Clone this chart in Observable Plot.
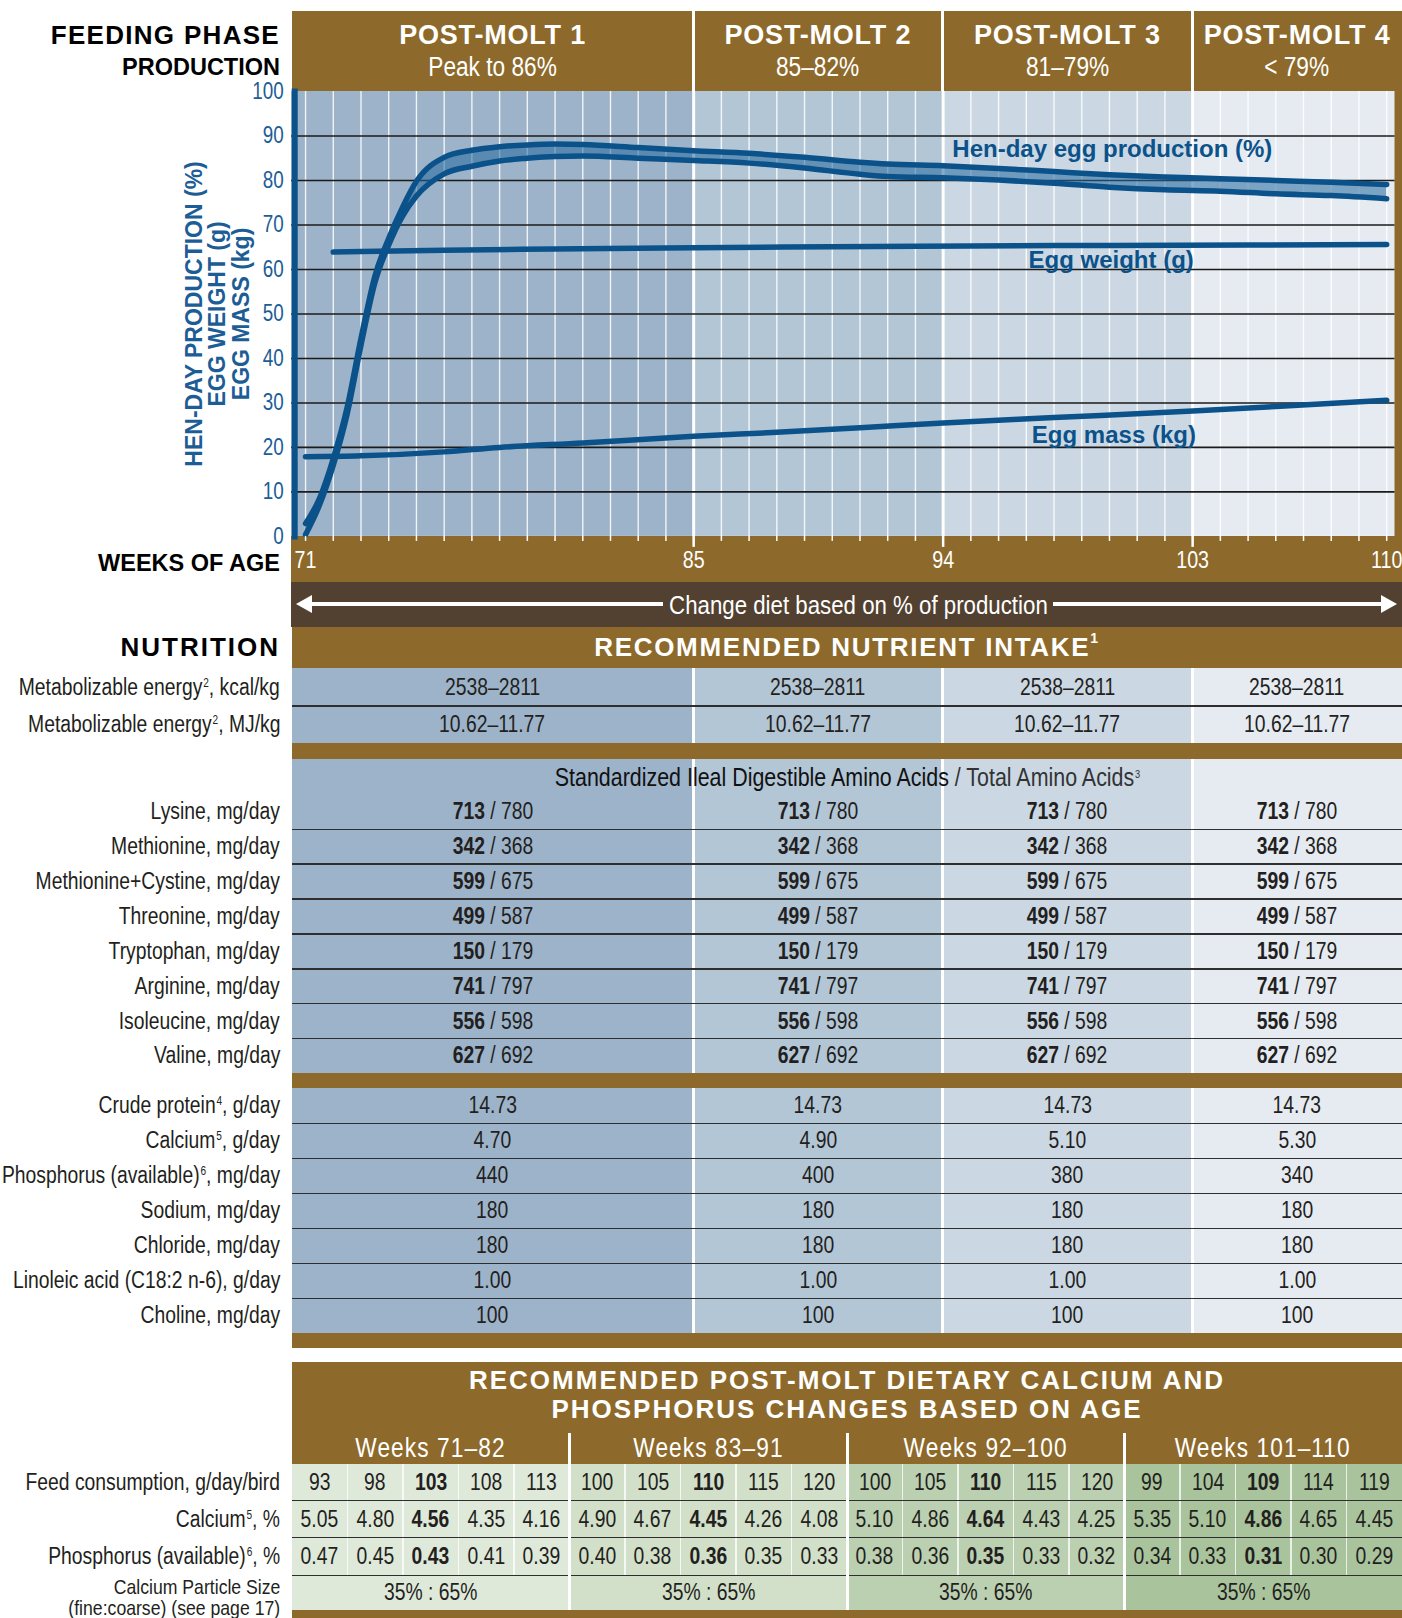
<!DOCTYPE html>
<html><head><meta charset="utf-8">
<script src="https://cdn.jsdelivr.net/npm/d3@7"></script>
<script src="https://cdn.jsdelivr.net/npm/@observablehq/plot@0.6"></script>
<style>
body{margin:0;background:#fff;}
#page{position:relative;width:1402px;height:1618px;overflow:hidden;color:#231f20;
 font-family:'Liberation Sans',Arial,sans-serif;}
.abs{position:absolute;box-sizing:border-box;}
.sup{font-size:12px;position:relative;top:-8px;margin-left:1px;}
.c{display:inline-block;transform:scaleX(0.84);transform-origin:center center;white-space:nowrap;}
.cr{transform-origin:right center;}
#page svg{position:absolute;left:0;top:0;}
</style></head>
<body><div id="page"></div>
<script>
// ---------------- DATA ----------------
const phaseNames = ["POST-MOLT 1", "POST-MOLT 2", "POST-MOLT 3", "POST-MOLT 4"];
const phaseProduction = ["Peak to 86%", "85–82%", "81–79%", "< 79%"];
const phaseStartWeek = [71, 85, 94, 103];
const phaseEndWeek = [85, 94, 103, 110];
const weekTicks = [71,72,73,74,75,76,77,78,79,80,81,82,83,84,85,86,87,88,89,90,91,92,93,94,95,96,97,98,99,100,101,102,103,104,105,106,107,108,109,110];
const xTickLabels = [71, 85, 94, 103, 110];
const yTickLabels = [0, 10, 20, 30, 40, 50, 60, 70, 80, 90, 100];
const yGridLines = [10, 20, 30, 40, 50, 60, 70, 80, 90];

const prodWeeks = [71, 71.5, 72, 72.5, 73, 73.5, 74, 74.5, 75, 76, 77, 78, 79, 80, 81, 83, 85, 87, 89, 91, 92, 94, 96, 98, 100, 102, 104, 106, 108, 110];
const prodUpper = [2.9, 8.5, 17.5, 29, 44.5, 58.5, 67, 74, 79.8, 85.2, 86.8, 87.6, 88.0, 88.2, 88.1, 87.4, 86.7, 86.1, 85.2, 84.1, 83.7, 83.3, 82.7, 82.0, 81.3, 80.8, 80.4, 80.0, 79.6, 79.1];
const prodLower = [0.4, 7.0, 16.0, 27.5, 43.0, 57.0, 65.5, 72.0, 76.5, 81.5, 83.2, 84.4, 85.0, 85.4, 85.5, 85.0, 84.5, 83.9, 82.8, 81.4, 80.9, 80.6, 80.1, 79.4, 78.5, 77.9, 77.6, 77.0, 76.6, 75.9];
const eggWeightWeeks = [72, 76, 80, 85, 90, 95, 100, 105, 110];
const eggWeight = [63.9, 64.3, 64.6, 64.9, 65.1, 65.3, 65.4, 65.5, 65.6];
const eggMassWeeks = [71, 73, 76, 78, 81, 85, 88, 91, 94, 98, 103, 106, 110];
const eggMass = [17.9, 18.1, 19.0, 20.0, 21.0, 22.5, 23.4, 24.4, 25.5, 26.7, 28.2, 29.2, 30.6];
const seriesLabels = ["Hen-day egg production (%)", "Egg weight (g)", "Egg mass (kg)"];

const energyLabels = ["Metabolizable energy<span class='sup'>2</span>, kcal/kg", "Metabolizable energy<span class='sup'>2</span>, MJ/kg"];
const energyValues = [["2538–2811","2538–2811","2538–2811","2538–2811"], ["10.62–11.77","10.62–11.77","10.62–11.77","10.62–11.77"]];
const aminoNames = ["Lysine", "Methionine", "Methionine+Cystine", "Threonine", "Tryptophan", "Arginine", "Isoleucine", "Valine"];
const aminoDigestible = [713, 342, 599, 499, 150, 741, 556, 627];
const aminoTotal = [780, 368, 675, 587, 179, 797, 598, 692];
const otherLabels = ["Crude protein<span class='sup'>4</span>, g/day", "Calcium<span class='sup'>5</span>, g/day", "Phosphorus (available)<span class='sup'>6</span>, mg/day", "Sodium, mg/day", "Chloride, mg/day", "Linoleic acid (C18:2 n-6), g/day", "Choline, mg/day"];
const otherValues = [
  ["14.73","14.73","14.73","14.73"],
  ["4.70","4.90","5.10","5.30"],
  ["440","400","380","340"],
  ["180","180","180","180"],
  ["180","180","180","180"],
  ["1.00","1.00","1.00","1.00"],
  ["100","100","100","100"]];

const ageGroups = ["Weeks 71–82", "Weeks 83–91", "Weeks 92–100", "Weeks 101–110"];
const feedConsumption = [[93,98,103,108,113],[100,105,110,115,120],[100,105,110,115,120],[99,104,109,114,119]];
const calciumPct = [["5.05","4.80","4.56","4.35","4.16"],["4.90","4.67","4.45","4.26","4.08"],["5.10","4.86","4.64","4.43","4.25"],["5.35","5.10","4.86","4.65","4.45"]];
const phosphorusPct = [["0.47","0.45","0.43","0.41","0.39"],["0.40","0.38","0.36","0.35","0.33"],["0.38","0.36","0.35","0.33","0.32"],["0.34","0.33","0.31","0.30","0.29"]];
const particleSize = ["35% : 65%", "35% : 65%", "35% : 65%", "35% : 65%"];
const ageRowLabels = ["Feed consumption, g/day/bird", "Calcium<span class='sup'>5</span>, %", "Phosphorus (available)<span class='sup'>6</span>, %"];

// ---------------- STYLE ----------------
const FONT = "'Liberation Sans',Arial,sans-serif";
const BLUE = "#0b528a", TICKBLUE = "#1d5d96";
const BROWN = "#8d6a2b", DARKBROWN = "#524130";
const PHASE_FILL = ["#9db3c9", "#b3c6d6", "#cbd8e3", "#e6ebf2"];
const GROUP_FILL = ["#dfe9da", "#d2e0ca", "#bbd0b1", "#a9c49c"];
const X_DOMAIN = [70.5, 110.3];
const SQUEEZE = 0.82;

const page = document.getElementById("page");
function box(l, t, w, h, css, html) {
  const d = document.createElement("div"); d.className = "abs";
  Object.assign(d.style, {left: l + "px", top: t + "px", width: w + "px", height: h + "px"}, css || {});
  if (html != null) d.innerHTML = html;
  page.appendChild(d); return d;
}
// condensed text, centred (or right aligned)
function txt(l, t, w, h, html, css, alignRight) {
  return box(l, t, w, h, Object.assign({display: "flex", alignItems: "center", justifyContent: alignRight ? "flex-end" : "center", whiteSpace: "nowrap", fontSize: "23px"}, css || {}),
    `<span class="c${alignRight ? " cr" : ""}">${html}</span>`);
}
// bold heading text (not condensed)
function head(l, t, w, h, html, css, alignRight) {
  return box(l, t, w, h, Object.assign({display: "flex", alignItems: "center", justifyContent: alignRight ? "flex-end" : "center", whiteSpace: "nowrap", fontWeight: "bold"}, css || {}), html);
}

// ---------------- CHART ----------------
const phases = phaseNames.map((n, i) => ({name: n, start: i === 0 ? X_DOMAIN[0] : phaseStartWeek[i], end: i === 3 ? X_DOMAIN[1] : phaseEndWeek[i], i}));
const prod = prodWeeks.map((w, i) => ({week: w, upper: prodUpper[i], lower: prodLower[i]}));
const ew = eggWeightWeeks.map((w, i) => ({week: w, value: eggWeight[i]}));
const em = eggMassWeeks.map((w, i) => ({week: w, value: eggMass[i]}));
const labelAnchors = [{week: 94.33, value: 87.05}, {week: 97.08, value: 62.0}, {week: 97.2, value: 22.7}];
const labelsData = seriesLabels.map((t, i) => ({text: t, ...labelAnchors[i]}));

// HTML backgrounds under the plot
box(292, 11, 1110, 80, {background: BROWN});
box(1394, 88, 8, 450, {background: BROWN});
box(291, 535.9, 1111, 45.8, {background: BROWN});
box(291, 581.7, 1111, 45, {background: DARKBROWN});

const lineOpts = {stroke: BLUE, strokeWidth: 5.5, strokeLinecap: "round", strokeLinejoin: "round"};
const chart = Plot.plot({
  width: 1402, height: 627,
  marginLeft: 291.2, marginRight: 7.5, marginTop: 91, marginBottom: 91.1,
  x: {domain: X_DOMAIN, label: null},
  y: {domain: [0, 100], label: null},
  style: {background: "transparent", overflow: "visible", fontFamily: FONT},
  marks: [
    Plot.rect(phases, {x1: "start", x2: "end", y1: 0, y2: 100, fill: d => PHASE_FILL[d.i]}),
    Plot.gridX(weekTicks, {stroke: "white", strokeOpacity: 0.85, strokeWidth: 1.4}),
    Plot.gridX(phaseStartWeek.slice(1), {stroke: "white", strokeOpacity: 1, strokeWidth: 3}),
    Plot.gridY(yGridLines, {stroke: "#1b1b1b", strokeOpacity: 1, strokeWidth: 1.6}),
    Plot.areaY(prod, {x: "week", y1: "lower", y2: "upper", curve: "monotone-x", fill: "#23679e", fillOpacity: 0.55}),
    Plot.line(prod, {x: "week", y: "upper", curve: "monotone-x", ...lineOpts}),
    Plot.line(prod, {x: "week", y: "lower", curve: "monotone-x", ...lineOpts}),
    Plot.line(ew, {x: "week", y: "value", curve: "monotone-x", ...lineOpts}),
    Plot.line(em, {x: "week", y: "value", curve: "monotone-x", ...lineOpts}),
    Plot.text(labelsData, {x: "week", y: "value", text: "text", textAnchor: "start", lineAnchor: "middle", fill: BLUE, fontSize: 24, fontWeight: "bold"}),
    Plot.frame({anchor: "left", stroke: BLUE, strokeWidth: 6, dx: 3}),
    Plot.axisY(yTickLabels, {anchor: "left", tickSize: 0, tickPadding: 8, fill: TICKBLUE, fontSize: 23, label: null}),
    Plot.axisX(weekTicks, {anchor: "bottom", tickSize: 5, tickFormat: () => "", stroke: "white", strokeWidth: 1.5, label: null}),
    Plot.axisX(phaseStartWeek.slice(1), {anchor: "bottom", tickSize: 11, tickFormat: () => "", stroke: "white", strokeWidth: 2.5, label: null}),
    Plot.axisX(xTickLabels, {anchor: "bottom", tickSize: 0, tickPadding: 15, fill: "white", fontSize: 24, label: null}),
    Plot.text(["HEN-DAY PRODUCTION (%)\nEGG WEIGHT (g)\nEGG MASS (kg)"], {frameAnchor: "left", textAnchor: "middle", lineAnchor: "middle", rotate: -90, dx: -74, lineHeight: 1.02, fill: "#1d5d96", fontWeight: "bold", fontSize: 23})
  ]
});
page.appendChild(chart);
// condense tick labels (narrow typeface is not installed)
chart.querySelectorAll('g[aria-label$="tick label"] text').forEach(t => {
  let tr = t.getAttribute("transform");
  if (!tr) {
    const x = +(t.getAttribute("x") || 0), y = +(t.getAttribute("y") || 0);
    t.removeAttribute("x"); t.removeAttribute("y");
    tr = `translate(${x},${y})`;
  }
  t.setAttribute("transform", tr + ` scale(${SQUEEZE},1)`);
});
const xs = chart.scale("x");

// column bounds (derived from the chart x scale)
const colL = phases.map((p, i) => i === 0 ? 292 : xs.apply(phaseStartWeek[i]));
const colR = phases.map((p, i) => i === 3 ? 1402 : xs.apply(phaseEndWeek[i]));

// header texts
head(0, 16, 280, 38, "FEEDING PHASE", {fontSize: "26px", letterSpacing: "1.3px", color: "#000"}, true);
head(0, 50, 280, 34, "PRODUCTION", {fontSize: "23.5px", color: "#000"}, true);
phases.forEach((p, i) => {
  if (i > 0) box(colL[i] - 1.5, 11, 3, 80, {background: "white"});
  head(colL[i], 16, colR[i] - colL[i], 38, phaseNames[i], {fontSize: "27px", color: "white", letterSpacing: "0.8px"});
  txt(colL[i], 49, colR[i] - colL[i], 36, phaseProduction[i], {fontSize: "27px", color: "white"});
});
head(0, 545, 280, 36, "WEEKS OF AGE", {fontSize: "23.5px", color: "#000"}, true);

// arrow band
function arrow(x1, x2, dir) {
  const a = box(x1, 595, x2 - x1, 18, {});
  a.innerHTML = `<div style="position:absolute;top:6.8px;height:4.5px;background:#fff;${dir < 0 ? "left:10px;right:0" : "left:0;right:10px"}"></div>` +
    `<div style="position:absolute;top:0;width:0;height:0;border-top:9px solid transparent;border-bottom:9px solid transparent;${dir < 0 ? "left:0;border-right:16px solid #fff" : "right:0;border-left:16px solid #fff"}"></div>`;
}
arrow(296, 663, -1);
arrow(1053, 1397, 1);
txt(663, 583, 390, 44, "Change diet based on % of production", {fontSize: "26.5px", color: "white"});

// ---------------- NUTRIENT TABLE ----------------
head(0, 626.7, 280, 41.6, "NUTRITION", {fontSize: "26px", color: "#000", letterSpacing: "2px"}, true);
box(292, 626.7, 1110, 41.6, {background: BROWN});
head(292, 626.7, 1110, 41.6, "RECOMMENDED NUTRIENT INTAKE<span style='font-size:14px;position:relative;top:-9px'>1</span>", {fontSize: "26px", color: "white", letterSpacing: "1.7px"});

const tTop = 668.3, tBot = 1333.3;
phases.forEach((p, i) => box(colL[i], tTop, colR[i] - colL[i], tBot - tTop, {background: PHASE_FILL[i]}));
// white column dividers
phases.forEach((p, i) => { if (i > 0) box(colL[i] - 1.5, tTop, 3, tBot - tTop, {background: "white"}); });

function line(y) { box(292, y - 0.8, 1110, 1.6, {background: "#2e2e2e"}); }
function nrow(top, h, label, values, withLine) {
  txt(0, top, 280, h, label, {}, true);
  values.forEach((v, i) => txt(colL[i], top, colR[i] - colL[i], h, v, {color: "#231f20"}));
  if (withLine) line(top + h);
}
nrow(668.3, 37.7, energyLabels[0], energyValues[0], true);
nrow(706, 37.3, energyLabels[1], energyValues[1], false);
txt(292, 760, 1110, 35.2, "<span style='color:#111'>Standardized Ileal Digestible Amino Acids</span>&nbsp;<span style='color:#333'>/ Total Amino Acids<span class='sup' style='font-size:11px'>3</span></span>", {fontSize: "25.5px"});
const aH = 34.85;
aminoNames.forEach((n, r) => {
  nrow(794.5 + r * aH, aH, n + ", mg/day", phases.map(() => `<b>${aminoDigestible[r]}</b>&nbsp;/ ${aminoTotal[r]}`), r < aminoNames.length - 1);
});
const oH = (1333.3 - 1088.5) / otherLabels.length;
otherLabels.forEach((n, r) => nrow(1088.5 + r * oH, oH, n, otherValues[r], r < otherLabels.length - 1));
// brown separators
box(292, 743.3, 1110, 16, {background: BROWN});
box(292, 1073.3, 1110, 15.2, {background: BROWN});
box(292, 1333.3, 1110, 15, {background: BROWN});

// ---------------- AGE TABLE ----------------
box(292, 1361.7, 1110, 102.3, {background: BROWN});
box(292, 1366, 1110, 62, {fontWeight: "bold", fontSize: "26px", color: "white", textAlign: "center", lineHeight: "28.5px", letterSpacing: "2px", whiteSpace: "nowrap"},
  "RECOMMENDED POST-MOLT DIETARY CALCIUM AND<br>PHOSPHORUS CHANGES BASED ON AGE");
const sub = d3.scaleBand().domain(d3.range(20)).range([292, 1402]);
const gW = sub.bandwidth() * 5;
ageGroups.forEach((g, gi) => {
  const gl = 292 + gi * gW;
  txt(gl, 1433, gW, 31, g, {fontSize: "27px", color: "white", letterSpacing: "1.3px"});
  box(gl, 1464, gW, 1610 - 1464, {background: GROUP_FILL[gi]});
});
// sub-cell dividers
d3.range(20).forEach(idx => { if (idx % 5 !== 0) box(sub(idx) - 0.6, 1464, 1.2, 1575.3 - 1464, {background: "rgba(255,255,255,0.75)"}); });
const rowTops = [1464, 1500.7, 1537.7, 1575.3, 1610];
const ageRows = [feedConsumption, calciumPct, phosphorusPct];
ageRows.forEach((rows, r) => {
  const top = rowTops[r], h = rowTops[r + 1] - rowTops[r];
  txt(0, top, 280, h, ageRowLabels[r], {}, true);
  rows.forEach((vals, gi) => vals.forEach((v, k) => {
    const idx = gi * 5 + k;
    txt(sub(idx), top, sub.bandwidth(), h, k === 2 ? `<b>${v}</b>` : String(v), {color: "#231f20"});
  }));
  line(rowTops[r + 1]);
});
particleSize.forEach((v, gi) => txt(292 + gi * gW, 1575.3, gW, 34.7, v, {color: "#231f20"}));
box(0, 1577, 280, 41, {fontSize: "21px", textAlign: "right", lineHeight: "20.5px", whiteSpace: "nowrap"},
  "<span class='c cr'>Calcium Particle Size</span><br><span class='c cr'>(fine:coarse) (see page 17)</span>");
// group dividers
ageGroups.forEach((g, gi) => { if (gi > 0) box(292 + gi * gW - 1.5, 1433, 3, 1610 - 1433, {background: "white"}); });
box(292, 1610, 1110, 10, {background: BROWN});
</script></body></html>
